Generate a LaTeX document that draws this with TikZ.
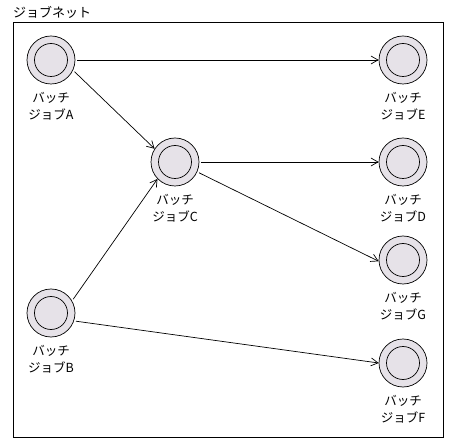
\documentclass[tikz,border=0pt]{standalone}
\usepackage{fontspec}
\newfontfamily\jpfont{Noto Sans CJK JP}
\usetikzlibrary{arrows.meta,positioning}
\definecolor{jobfill}{RGB}{230,226,232}
\tikzset{
  jobnode/.style={draw,circle,minimum size=48pt,inner sep=0pt,fill=jobfill,line width=0.7pt,
    path picture={\draw[line width=0.7pt] (path picture bounding box.center) circle (16.5pt);}},
  jobtext/.style={font=\jpfont\fontsize{12.5}{17}\selectfont,align=center,inner sep=1pt,yshift=-7pt},
  flow/.style={line width=0.7pt,-{Straight Barb[length=7pt,width=8pt]},shorten <=2pt}
}
\begin{document}
\begin{tikzpicture}[x=1pt,y=-1pt]
  \useasboundingbox (0,0) rectangle (452,443);
  \node[draw,line width=0.7pt,minimum width=430pt,minimum height=415pt,anchor=north west] (net) at (13,22) {};
  \node[font=\jpfont\fontsize{13}{15}\selectfont,anchor=south west,inner sep=0pt] (title) at (13,19) {ジョブネット};

  \node[jobnode,label={[jobtext]below:{バッチ\\ジョブA}}] (A) at (51,60) {};
  \node[jobnode,label={[jobtext]below:{バッチ\\ジョブB}}] (B) at (51,313) {};
  \node[jobnode,label={[jobtext]below:{バッチ\\ジョブC}}] (C) at (175,162) {};
  \node[jobnode,label={[jobtext]below:{バッチ\\ジョブE}}] (E) at (403,60) {};
  \node[jobnode,label={[jobtext]below:{バッチ\\ジョブD}}] (D) at (403,162) {};
  \node[jobnode,label={[jobtext]below:{バッチ\\ジョブG}}] (G) at (403,260) {};
  \node[jobnode,label={[jobtext]below:{バッチ\\ジョブF}}] (F) at (403,363) {};

  \draw[flow] (A.east) -- (E.west);
  \draw[flow] (A.-25) -- (C.147);
  \draw[flow] (B.30) -- (C.224);
  \draw[flow] (C.east) -- (D.west);
  \draw[flow] (C.-24) -- (G.183);
  \draw[flow] (B.-19) -- (F.west);
\end{tikzpicture}
\end{document}
